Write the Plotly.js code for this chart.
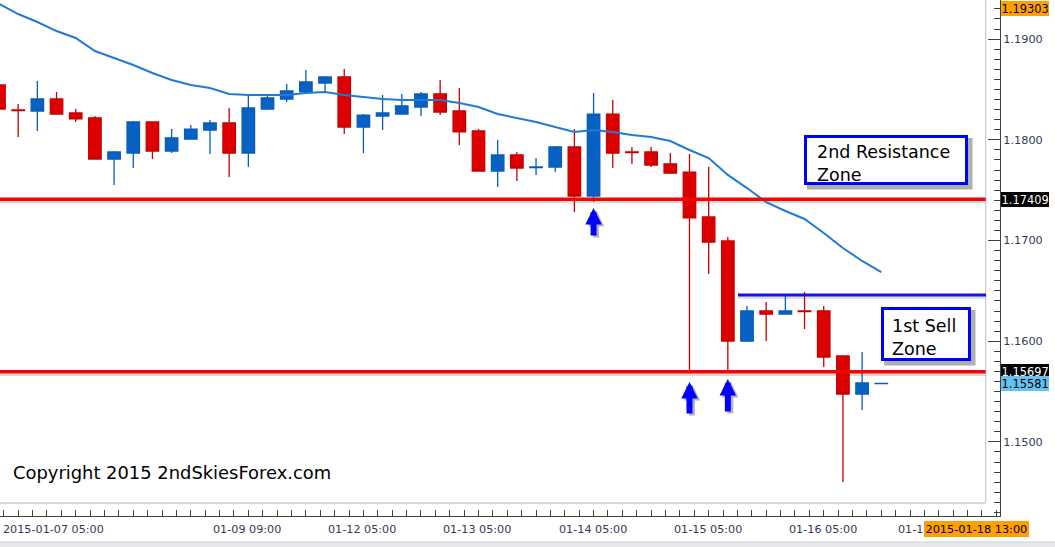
<!DOCTYPE html>
<html><head><meta charset="utf-8">
<script src="https://cdn.plot.ly/plotly-3.0.1.min.js"></script>
<style>html,body{margin:0;padding:0;background:#fff;overflow:hidden}#chart{width:1055px;height:547px}</style>
</head><body><div id="chart"></div>
<script>
// ---- data (EURUSD H4) ----
const opens  = [1.18544,1.18296,1.18286,1.18405,1.18266,1.18217,1.17809,1.17869,1.18177,1.17889,
                1.18008,1.18097,1.18167,1.17869,1.18306,1.18405,1.18475,1.18564,1.18624,1.18127,
                1.18236,1.18256,1.18326,1.18455,1.18286,1.18088,1.17690,1.17849,1.17725,1.17730,
                1.17929,1.17442,1.18256,1.17879,1.17879,1.17760,1.17680,1.17234,1.16995,1.16002,
                1.16300,1.16270,1.16300,1.16300,1.15853,1.15476,1.15580];
const highs  = [1.18564,1.18356,1.18584,1.18475,1.18306,1.18236,1.17889,1.18187,1.18180,1.18107,
                1.18147,1.18197,1.18316,1.18455,1.18455,1.18554,1.18693,1.18630,1.18703,1.18256,
                1.18445,1.18455,1.18475,1.18594,1.18514,1.18107,1.17998,1.17879,1.17819,1.17939,
                1.18107,1.18465,1.18395,1.17929,1.17929,1.17869,1.17859,1.17730,1.17035,1.16350,
                1.16389,1.16449,1.16489,1.16350,1.15860,1.15893,1.15581];
const lows   = [1.18286,1.18028,1.18088,1.18250,1.18177,1.17805,1.17551,1.17720,1.17809,1.17869,
                1.18005,1.17859,1.17631,1.17730,1.18300,1.18375,1.18470,1.18475,1.18058,1.17869,
                1.18097,1.18250,1.18236,1.18246,1.17948,1.17685,1.17531,1.17591,1.17651,1.17680,
                1.17283,1.17382,1.17720,1.17760,1.17730,1.17660,1.15700,1.16668,1.15700,1.15992,
                1.16002,1.16265,1.16121,1.15744,1.14602,1.15317,1.15580];
const closes = [1.18306,1.18291,1.18405,1.18256,1.18207,1.17809,1.17879,1.18177,1.17889,1.18018,
                1.18107,1.18167,1.17869,1.18316,1.18415,1.18485,1.18574,1.18624,1.18127,1.18246,
                1.18266,1.18336,1.18455,1.18276,1.18078,1.17690,1.17849,1.17720,1.17730,1.17929,
                1.17442,1.18256,1.17869,1.17874,1.17750,1.17670,1.17224,1.16985,1.16002,1.16300,
                1.16270,1.16300,1.16295,1.15843,1.15476,1.15585,1.15581];
const maValues = [1.19349,1.19249,1.19170,1.19080,1.19011,1.18882,1.18812,1.18743,1.18663,1.18594,
                  1.18544,1.18514,1.18455,1.18445,1.18445,1.18445,1.18465,1.18475,1.18445,1.18425,
                  1.18405,1.18395,1.18395,1.18395,1.18366,1.18326,1.18256,1.18217,1.18177,1.18127,
                  1.18078,1.18097,1.18078,1.18048,1.18028,1.17988,1.17899,1.17819,1.17651,1.17521,
                  1.17382,1.17293,1.17214,1.17075,1.16926,1.16797,1.16687];
const supportLevels = [1.17409, 1.15697];
const resistanceLevel = 1.16459;
const resistanceStartBar = 38.53;
const arrowBars = [31, 36, 38];
const arrowTips = [1.17323, 1.15595, 1.15625];
const arrowLengths = [29, 33, 34];
const xLabelBars = [11, 17, 23, 29, 35, 41, 47];
const xLabelTexts = ['01-09 09:00','01-12 05:00','01-13 05:00','01-14 05:00','01-15 05:00','01-16 05:00','01-1'];
const firstXLabel = '2015-01-07 05:00';
const lastTimeTag = '2015-01-18 13:00';
const topPriceTag = 1.19303;
const bidPrice = 1.15581;

// ---- geometry ----
const PW = 1000, PH = 516;
const xRange = [0.0521, 52.19];
const yRange = [1.142644, 1.193883];
const px = v => v / PW;
const py = v => 1 - v / PH;
const frameX = px(985.7);
const xAt = f => xRange[0] + f * (xRange[1] - xRange[0]);
const FONT = 'DejaVu Sans, Verdana, sans-serif';
const AXC = '#33395c';

const idx = opens.map((_, i) => i);

const traces = [
  {type:'candlestick', x: idx, open: opens, high: highs, low: lows, close: closes,
   increasing:{line:{color:'#0a5cb8', width:1.3}, fillcolor:'#0862c4'},
   decreasing:{line:{color:'#c80000', width:1.3}, fillcolor:'#dd0000'},
   whiskerwidth:0, hoverinfo:'skip', showlegend:false},
  {type:'scatter', mode:'lines', x: idx, y: maValues,
   line:{color:'#1f7bd6', width:2}, hoverinfo:'skip', showlegend:false}
];

const shapes = [];
// light frame
shapes.push({type:'line', xref:'paper', yref:'paper', x0:frameX, x1:frameX, y0:py(503), y1:1, line:{color:'#c9cdd6', width:1.3}, layer:'below'});
shapes.push({type:'line', xref:'paper', yref:'paper', x0:0, x1:frameX, y0:py(503), y1:py(503), line:{color:'#c9cdd6', width:1.3}, layer:'below'});
// bottom band
shapes.push({type:'rect', xref:'paper', yref:'paper', x0:-0.01, x1:1.06, y0:py(542), y1:py(549), fillcolor:'#e8e8ef', line:{color:'#cdcdd6', width:1}});
// support lines with shadows
supportLevels.forEach(l => {
  shapes.push({type:'line', xref:'paper', yref:'y', x0:0, x1:frameX, y0:l-0.00027, y1:l-0.00027, line:{color:'rgba(150,150,150,0.35)', width:3}, layer:'below'});
  shapes.push({type:'line', xref:'paper', yref:'y', x0:0, x1:frameX, y0:l, y1:l, line:{color:'#ff0000', width:3.5}});
});
// resistance line
shapes.push({type:'line', xref:'x', yref:'y', x0:resistanceStartBar, x1:xAt(0.986), y0:resistanceLevel-0.00025, y1:resistanceLevel-0.00025, line:{color:'rgba(150,150,150,0.3)', width:3}, layer:'below'});
shapes.push({type:'line', xref:'x', yref:'y', x0:resistanceStartBar, x1:xAt(0.986), y0:resistanceLevel, y1:resistanceLevel, line:{color:'#1414e6', width:3}});
// text boxes
function box(x0,y0,x1,y1){
  shapes.push({type:'rect', xref:'paper', yref:'paper', x0:px(x0+3), x1:px(x1+4.5), y0:py(y1+4.5), y1:py(y0+3), fillcolor:'rgba(110,110,110,0.55)', line:{width:0}});
  shapes.push({type:'rect', xref:'paper', yref:'paper', x0:px(x0+1.5), x1:px(x1-1.5), y0:py(y1-1.5), y1:py(y0+1.5), fillcolor:'#ffffff', line:{color:'#0000ff', width:3}});
}
box(804,135,968,185);
box(881,307,971,361);

const annotations = [];
annotations.push({xref:'paper', yref:'paper', x:px(11), y:py(472), xanchor:'left', yanchor:'middle', showarrow:false,
  text:'Copyright 2015 2ndSkiesForex.com', font:{family:FONT, size:17.9, color:'#000'}});
annotations.push({xref:'paper', yref:'paper', x:px(815), y:py(163), xanchor:'left', yanchor:'middle', align:'left', showarrow:false,
  text:'2nd Resistance<br>Zone', font:{family:FONT, size:17.5, color:'#000'}});
annotations.push({xref:'paper', yref:'paper', x:px(890), y:py(337), xanchor:'left', yanchor:'middle', align:'left', showarrow:false,
  text:'1st Sell<br>Zone', font:{family:FONT, size:17.5, color:'#000'}});
// arrows
arrowBars.forEach((b, k) => {
  annotations.push({xref:'x', yref:'y', x:b, y:arrowTips[k], ax:0, ay:arrowLengths[k], text:'', showarrow:true,
    arrowhead:2, arrowwidth:6, arrowsize:0.55, arrowcolor:'rgba(110,110,110,0.5)', xshift:2.5, yshift:-2});
  annotations.push({xref:'x', yref:'y', x:b, y:arrowTips[k], ax:0, ay:arrowLengths[k], text:'', showarrow:true,
    arrowhead:2, arrowwidth:6, arrowsize:0.55, arrowcolor:'#0000ff'});
});
// price tags
function tag(price, text, bg, fg){
  annotations.push({xref:'paper', yref:'y', x:1, y:price, xanchor:'left', yanchor:'middle', xshift:1, showarrow:false,
    text:text, bgcolor:bg, borderpad:0.6, borderwidth:0, font:{family:FONT, size:11.4, color:fg}});
}
tag(topPriceTag, topPriceTag.toFixed(5), '#ffa000', '#000');
tag(supportLevels[0], supportLevels[0].toFixed(5), '#000000', '#fff');
tag(supportLevels[1], supportLevels[1].toFixed(5), '#000000', '#fff');
tag(bidPrice, bidPrice.toFixed(5), '#66c2f0', '#000');
// x labels
annotations.push({xref:'paper', yref:'paper', x:px(1), y:py(529), xanchor:'left', yanchor:'middle', showarrow:false,
  text:firstXLabel, font:{family:FONT, size:11.2, color:AXC}});
xLabelBars.forEach((b, k) => {
  annotations.push({xref:'x', yref:'paper', x:b + 0.07, y:py(529), xanchor:'left', yanchor:'middle', showarrow:false,
    xshift: k === xLabelBars.length - 1 ? -6 : 0,
    text:xLabelTexts[k], font:{family:FONT, size:11.2, color:AXC}});
});
annotations.push({xref:'paper', yref:'paper', x:px(924), y:py(529), xanchor:'left', yanchor:'middle', showarrow:false,
  text:lastTimeTag, bgcolor:'#ffa000', borderpad:1.5, borderwidth:0, font:{family:FONT, size:11.3, color:'#000'}});

const layout = {
  width:1055, height:547,
  margin:{l:0, r:55, t:0, b:31, pad:0},
  paper_bgcolor:'#ffffff', plot_bgcolor:'#ffffff',
  showlegend:false, boxgap:0.35, boxgroupgap:0,
  xaxis:{range:xRange, showgrid:false, zeroline:false, showticklabels:false, rangeslider:{visible:false},
    ticks:'inside', ticklen:6, tickcolor:'#404040', tick0:49, dtick:0.75,
    showline:true, linecolor:'#404040', linewidth:1, fixedrange:true},
  yaxis:{range:yRange, side:'right', showgrid:false, zeroline:false,
    tick0:1.15, dtick:0.01, tickformat:'.4f', ticks:'inside', ticklen:12, tickcolor:'#404040',
    minor:{dtick:0.001, tick0:1.15, ticks:'inside', ticklen:6, tickcolor:'#404040', showgrid:false},
    tickfont:{family:FONT, size:11.3, color:AXC},
    showline:true, linecolor:'#404040', linewidth:1, fixedrange:true},
  shapes:shapes, annotations:annotations
};
Plotly.newPlot('chart', traces, layout, {displayModeBar:false, staticPlot:true});
</script></body></html>
